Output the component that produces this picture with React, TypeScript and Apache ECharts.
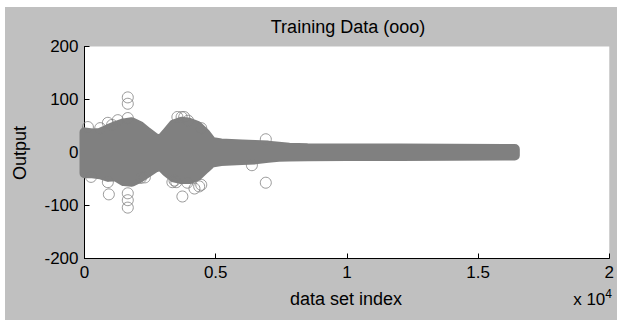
import React, { useEffect, useRef } from "react";
import * as echarts from "echarts";

// Axis ranges / ticks
const xMin = 0;
const xMax = 20000;
const xStep = 5000;
const yMin = -200;
const yMax = 200;
const yStep = 100;

// Envelope of the dense band of circle centres (index, upper value, lower value)
const envIndex = [0, 300, 600, 900, 1200, 1500, 1800, 2100, 2400, 2700, 2900, 3100, 3400, 3700, 4000, 4300, 4600, 4850, 5200, 5600, 6000, 6500, 7000, 7400, 7800, 8500, 10000, 12000, 14000, 16000, 16400];
const envUpper = [38, 36, 37, 44, 50, 55, 57, 50, 38, 27, 24, 35, 53, 58, 56, 50, 36, 20, 17, 16, 15, 14, 13, 11, 9, 8, 7.5, 7.5, 7, 6.5, 6.5];
const envLower = [-39, -39, -41, -46, -45, -54, -55, -48, -38, -28, -25, -35, -47, -50, -50, -44, -30, -19, -16, -15, -14, -13, -10, -8, -7.5, -7, -6.5, -6.5, -6, -5.5, -5.5];

// Isolated and edge circles
const outlierIndex = [130, 890, 1270, 1650, 1650, 1650, 928, 890, 1650, 1650, 1650, 2150, 2300, 3350, 3500, 3540, 3700, 3800, 3950, 4450, 3430, 3730, 3920, 4190, 4370, 4450, 6380, 6910, 6910, 1050, 600, 250];
const outlierValue = [48, 56, 61, 65, 104, 92, -79, -56, -77, -90, -104, -48, -47, -56, -56, 67, 67, 67, 60, 46, -53, -83, -57, -68, -64, -61, -24, 25, -57, 52, 46, -46];

const FONT = '"Liberation Sans", Arial, Helvetica, sans-serif';

export default function App() {
  const ref = useRef<HTMLDivElement>(null);

  useEffect(() => {
    if (!ref.current) return;
    const chart = echarts.init(ref.current, undefined, { renderer: "svg" });
    const outliers = outlierIndex.map((x, i) => [x, outlierValue[i]]);
    chart.setOption({
      animation: false,
      backgroundColor: "#c0c0c0",
      textStyle: { fontFamily: FONT },
      grid: {
        left: 79.5,
        right: 5,
        top: 39.5,
        bottom: 61.5,
        show: true,
        backgroundColor: "#ffffff",
        borderWidth: 0,
      },
      xAxis: {
        type: "value",
        min: xMin,
        max: xMax,
        interval: xStep,
        axisLine: { show: true, onZero: false, lineStyle: { color: "#000", width: 1 } },
        axisTick: { show: true, inside: true, length: 5, lineStyle: { color: "#000" } },
        axisLabel: {
          color: "#000",
          fontSize: 17,
          fontFamily: FONT,
          margin: 5,
          formatter: (v: number) => String(v / 10000),
        },
        splitLine: { show: false },
      },
      yAxis: {
        type: "value",
        min: yMin,
        max: yMax,
        interval: yStep,
        axisLine: { show: true, onZero: false, lineStyle: { color: "#000", width: 1 } },
        axisTick: { show: true, inside: true, length: 5, lineStyle: { color: "#000" } },
        axisLabel: { color: "#000", fontSize: 17, fontFamily: FONT, margin: 6 },
        splitLine: { show: false },
      },
      graphic: [
        {
          type: "text",
          x: 343,
          y: 20,
          style: { text: "Training Data (ooo)", fill: "#000", font: `18px ${FONT}`, align: "center", verticalAlign: "middle" },
        },
        {
          type: "text",
          x: 341,
          y: 292,
          style: { text: "data set index", fill: "#000", font: `18px ${FONT}`, align: "center", verticalAlign: "middle" },
        },
        {
          type: "text",
          x: 15,
          y: 146,
          rotation: Math.PI / 2,
          style: { text: "Output", fill: "#000", font: `18px ${FONT}`, align: "center", verticalAlign: "middle" },
        },
        {
          type: "text",
          x: 607,
          y: 303,
          style: {
            text: "{a|x 10}{b|4}",
            align: "right",
            verticalAlign: "bottom",
            rich: {
              a: { fontSize: 17, fontFamily: FONT, fill: "#000", color: "#000" },
              b: { fontSize: 12, fontFamily: FONT, fill: "#000", color: "#000", verticalAlign: "top", padding: [0, 0, 10, 0] },
            },
          },
        },
      ],
      series: [
        {
          type: "custom",
          clip: false,
          silent: true,
          data: [[0, 0]],
          encode: { x: 0, y: 1 },
          renderItem: (_params: any, api: any) => {
            const pts: number[][] = [];
            for (let i = 0; i < envIndex.length; i++) pts.push(api.coord([envIndex[i], envUpper[i]]));
            for (let i = envIndex.length - 1; i >= 0; i--) pts.push(api.coord([envIndex[i], envLower[i]]));
            return {
              type: "polygon",
              shape: { points: pts },
              style: { fill: "#808080", stroke: "#808080", lineWidth: 10, lineJoin: "round" },
            };
          },
        },
        {
          type: "scatter",
          silent: true,
          clip: false,
          symbol: "circle",
          symbolSize: 11,
          data: outliers,
          itemStyle: { color: "rgba(0,0,0,0)", borderColor: "#808080", borderWidth: 1 },
        },
      ],
    });
    return () => chart.dispose();
  }, []);

  return (
    <div style={{ position: "absolute", left: 0, top: 0, width: 617, height: 320, background: "#fff" }}>
      <div ref={ref} style={{ position: "absolute", left: 5, top: 7, width: 612, height: 313 }} />
    </div>
  );
}
